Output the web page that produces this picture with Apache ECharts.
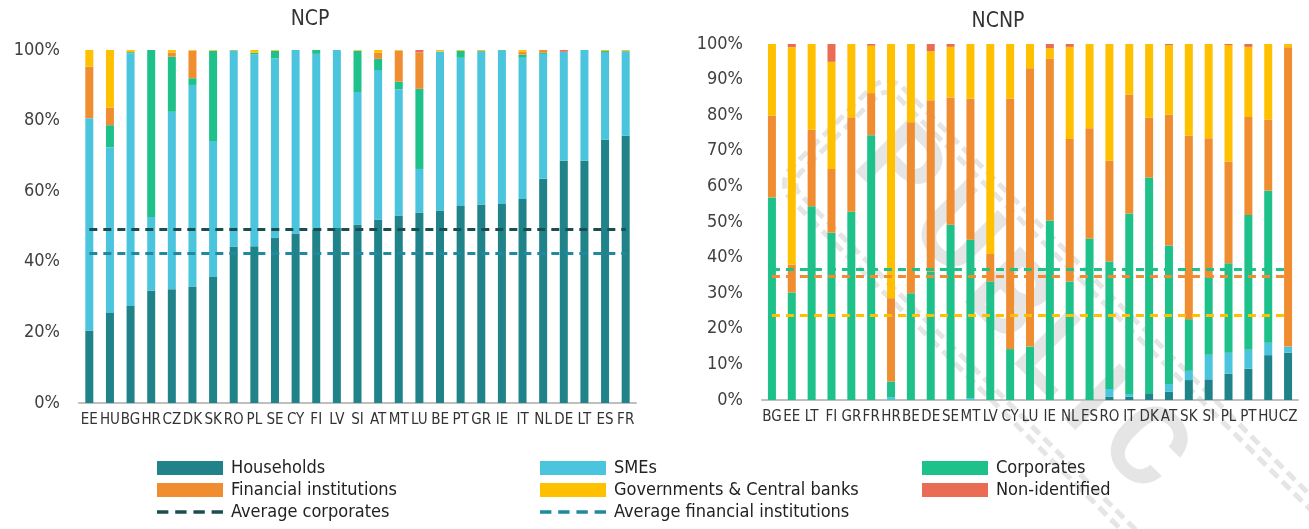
<!DOCTYPE html>
<html>
<head>
<meta charset="utf-8">
<script src="https://cdn.jsdelivr.net/npm/echarts@6/dist/echarts.min.js"></script>
<style>
html,body{margin:0;padding:0;background:#fff;}
#main{width:1309px;height:529px;}
</style>
</head>
<body>
<div id="main"></div>
<script>
// NCP panel (left), shares in %
var ncpCats = ['EE','HU','BG','HR','CZ','DK','SK','RO','PL','SE','CY','FI','LV','SI','AT','MT','LU','BE','PT','GR','IE','IT','NL','DE','LT','ES','FR'];
var ncpHouseholds = [20.5,25.5,27.5,31.9,32.2,33.0,35.7,44.3,44.4,46.9,48.0,49.2,49.6,50.6,52.0,53.1,54.0,54.5,55.8,56.2,56.4,57.8,63.5,68.6,68.6,74.6,75.7];
var ncpSmes = [60.2,46.9,71.6,20.8,50.3,57.1,38.5,55.4,54.4,50.7,52.0,49.7,50.4,37.5,42.3,35.8,12.3,45.1,42.0,43.5,43.4,40.0,35.4,30.9,31.4,24.8,24.0];
var ncpCorporates = [0,6.3,0.3,47.3,15.6,1.9,25.6,0.2,0.4,2.2,0,1.1,0,11.7,3.2,2.1,22.7,0,2.0,0,0.2,0.9,0.3,0,0,0.3,0];
var ncpFinancial = [14.6,5.0,0,0,1.2,7.8,0,0,0,0,0,0,0,0,1.7,8.8,10.3,0,0,0,0,0.8,0.8,0,0,0,0];
var ncpGov = [4.7,16.3,0.6,0,0.7,0.2,0.2,0.1,0.8,0.2,0,0,0,0.2,0.8,0.2,0,0.4,0.2,0.3,0,0.5,0,0,0,0.3,0.3];
var ncpNonId = [0,0,0,0,0,0,0,0,0,0,0,0,0,0,0,0,0.7,0,0,0,0,0,0,0.5,0,0,0];
var ncpAvgCorporates = 49.2;
var ncpAvgFinancial = 42.3;

// NCNP panel (right), shares in %
var ncnpCats = ['BG','EE','LT','FI','GR','FR','HR','BE','DE','SE','MT','LV','CY','LU','IE','NL','ES','RO','IT','DK','AT','SK','SI','PL','PT','HU','CZ'];
var ncnpHouseholds = [0,0,0,0,0,0,0,0,0,0,0,0,0,0,0,0,0,0.9,0.9,1.9,2.3,5.6,5.8,7.4,8.8,12.6,13.3];
var ncnpSmes = [0,0,0,0,0,0,0.7,0,0,0,0.5,0,0,0,0,0,0,2.2,0.8,0,2.2,2.6,6.9,5.9,5.3,3.5,1.7];
var ncnpCorporates = [56.9,30.2,54.4,47.0,52.9,74.4,4.5,30.0,36.0,49.2,44.5,33.3,14.3,15.0,50.4,33.3,45.4,35.8,50.7,60.6,38.9,14.5,22.0,25.1,37.9,42.7,0];
var ncnpFinancial = [23.0,7.8,21.5,17.9,26.5,11.8,23.4,48.0,48.2,35.8,39.7,7.7,70.4,78.2,45.5,40.0,30.9,28.3,33.4,16.8,36.8,51.5,38.8,28.6,27.5,20.0,84.1];
var ncnpGov = [20.1,61.1,24.1,30.1,20.6,13.3,71.4,22.0,13.8,14.2,15.3,59.0,15.3,6.8,2.9,25.9,23.7,32.8,14.2,20.7,19.5,25.8,26.5,32.7,19.7,21.2,0.9];
var ncnpNonId = [0,0.9,0,5.0,0,0.5,0,0,2.0,0.8,0,0,0,0,1.2,0.8,0,0,0,0,0.3,0,0,0.3,0.8,0,0];
var ncnpAvgCorporates = 36.7;
var ncnpAvgFinancial = 34.7;
var ncnpAvgGov = 23.8;

var ncpTicks = [0,20,40,60,80,100];
var ncnpTicks = [0,10,20,30,40,50,60,70,80,90,100];

var FONT = '"Liberation Sans Narrow","DejaVu Sans Condensed",Roboto,sans-serif';
var colors = {
	households:'#1f8389',
	smes:'#4bc4dd',
	corporates:'#1ec18a',
	financial:'#f08d31',
	gov:'#ffc000',
	nonid:'#e96c55',
	avgCorp:'#1b4e50',
	avgFin:'#2089a0'
};
// dashed line icon for the legend
var DASH_ICON = 'path://M0,0h10v3h-10z M16,0h10v3h-10z M32,0h10v3h-10z M48,0h10v3h-10z';

var myChart = echarts.init(document.getElementById('main'));

function xAxisOf(idx, cats){
	return {
		type:'category',
		gridIndex:idx,
		data:cats,
		axisLine:{lineStyle:{color:'#bfbfbf',width:2}},
		axisTick:{show:false},
		axisLabel:{interval:0,color:'#333',fontSize:15,fontFamily:FONT,margin:10}
	};
}
function yAxisOf(idx, ticks){
	return {
		type:'value',
		gridIndex:idx,
		min:ticks[0],
		max:ticks[ticks.length-1],
		interval:ticks[1]-ticks[0],
		axisLine:{show:false},
		axisTick:{show:false},
		splitLine:{show:false},
		axisLabel:{color:'#404040',fontSize:18,fontFamily:FONT,margin:19,formatter:'{value}%'}
	};
}
function barOf(name, color, data, idx, stack, markLine){
	var s = {
		name:name,
		type:'bar',
		stack:stack,
		xAxisIndex:idx,
		yAxisIndex:idx,
		barWidth:8,
		itemStyle:{color:color},
		data:data
	};
	if(markLine){ s.markLine = markLine; }
	return s;
}
function avgLine(cats, value, color){
	return {
		symbol:'none',
		silent:true,
		label:{show:false},
		lineStyle:{color:color,type:[8,6],width:3},
		data:[[{coord:[cats[0],value]},{coord:[cats[cats.length-1],value]}]]
	};
}

var legendText = {color:'#222',fontSize:18,fontFamily:FONT,lineHeight:18,padding:[0,0,0,3]};
function legendAt(left, items){
	return {orient:'vertical',left:left,top:459,padding:0,itemWidth:66,itemHeight:14,itemGap:4,textStyle:legendText,selectedMode:false,data:items};
}

// PUBLIC stamp
var STAMP_GRAY = 'rgba(180,180,180,0.34)';
var stampLetters = ['P','U','B','L','I','C'];
var stampPos = [[895,172],[952,236],[1004,302],[1050,360],[1089,405],[1140,452]];
var stampChildren = [];
for(var i=0;i<stampLetters.length;i++){
	stampChildren.push({
		type:'text',
		x:stampPos[i][0],
		y:stampPos[i][1],
		rotation:-Math.PI/4,
		silent:true,
		style:{text:stampLetters[i],fill:STAMP_GRAY,font:'bold 110px Roboto, sans-serif',align:'center',verticalAlign:'middle'}
	});
}
stampChildren.push({
	type:'group',
	x:887,y:72,rotation:-Math.PI/4,silent:true,
	children:[
		{type:'rect',shape:{x:0,y:0,width:720,height:158,r:22},style:{fill:'none',stroke:STAMP_GRAY,lineWidth:5,lineDash:[11,6]}},
		{type:'rect',shape:{x:10,y:10,width:700,height:138,r:15},style:{fill:'none',stroke:STAMP_GRAY,lineWidth:5,lineDash:[11,6]}}
	]
});

var option = {
	animation:false,
	title:[
		{text:'NCP',left:305,top:4,textAlign:'center',textStyle:{color:'#333',fontSize:21,fontWeight:'normal',fontFamily:FONT}},
		{text:'NCNP',left:993,top:6,textAlign:'center',textStyle:{color:'#333',fontSize:21,fontWeight:'normal',fontFamily:FONT}}
	],
	grid:[
		{left:79,right:673,top:50,bottom:126},
		{left:762,right:11,top:44,bottom:129}
	],
	xAxis:[xAxisOf(0,ncpCats),xAxisOf(1,ncnpCats)],
	yAxis:[yAxisOf(0,ncpTicks),yAxisOf(1,ncnpTicks)],
	legend:[
		legendAt(157,[{name:'Households',icon:'rect'},{name:'Financial institutions',icon:'rect'},{name:'Average corporates',icon:DASH_ICON}]),
		legendAt(540,[{name:'SMEs',icon:'rect'},{name:'Governments & Central banks',icon:'rect'},{name:'Average financial institutions',icon:DASH_ICON}]),
		legendAt(922,[{name:'Corporates',icon:'rect'},{name:'Non-identified',icon:'rect'}])
	],
	series:[
		barOf('Households',colors.households,ncpHouseholds,0,'ncp'),
		barOf('SMEs',colors.smes,ncpSmes,0,'ncp'),
		barOf('Corporates',colors.corporates,ncpCorporates,0,'ncp'),
		barOf('Financial institutions',colors.financial,ncpFinancial,0,'ncp'),
		barOf('Governments & Central banks',colors.gov,ncpGov,0,'ncp'),
		barOf('Non-identified',colors.nonid,ncpNonId,0,'ncp'),
		{
			name:'Average corporates',type:'line',xAxisIndex:0,yAxisIndex:0,symbol:'none',
			lineStyle:{color:colors.avgCorp,type:[8,6],width:3},itemStyle:{color:colors.avgCorp},
			data:[],markLine:avgLine(ncpCats,ncpAvgCorporates,colors.avgCorp)
		},
		{
			name:'Average financial institutions',type:'line',xAxisIndex:0,yAxisIndex:0,symbol:'none',
			lineStyle:{color:colors.avgFin,type:[8,6],width:3},itemStyle:{color:colors.avgFin},
			data:[],markLine:avgLine(ncpCats,ncpAvgFinancial,colors.avgFin)
		},
		barOf('Households',colors.households,ncnpHouseholds,1,'ncnp'),
		barOf('SMEs',colors.smes,ncnpSmes,1,'ncnp'),
		barOf('Corporates',colors.corporates,ncnpCorporates,1,'ncnp',avgLine(ncnpCats,ncnpAvgCorporates,colors.corporates)),
		barOf('Financial institutions',colors.financial,ncnpFinancial,1,'ncnp',avgLine(ncnpCats,ncnpAvgFinancial,colors.financial)),
		barOf('Governments & Central banks',colors.gov,ncnpGov,1,'ncnp',avgLine(ncnpCats,ncnpAvgGov,colors.gov)),
		barOf('Non-identified',colors.nonid,ncnpNonId,1,'ncnp')
	],
	graphic:[{type:'group',z:100,silent:true,children:stampChildren}]
};
myChart.setOption(option);
</script>
</body>
</html>
